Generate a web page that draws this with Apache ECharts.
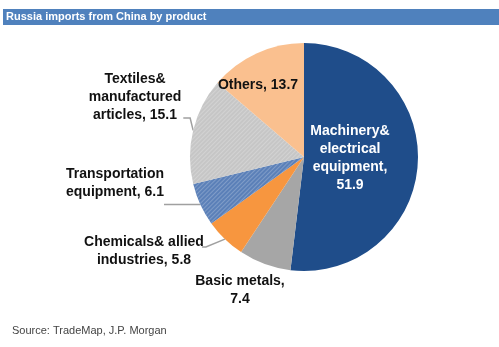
<!DOCTYPE html>
<html><head><meta charset="utf-8">
<script src="https://cdn.jsdelivr.net/npm/echarts@6/dist/echarts.min.js"></script>
<style>html,body{margin:0;padding:0;background:#fff}#c{width:499px;height:347px}</style>
</head><body><div id="c"></div>
<script>
var titleText = 'Russia imports from China by product';
var sourceText = 'Source: TradeMap, J.P. Morgan';
var categories = ['Machinery&\nelectrical\nequipment,', 'Basic metals,', 'Chemicals& allied\nindustries,', 'Transportation\nequipment,', 'Textiles&\nmanufactured\narticles,', 'Others,'];
var values = [51.9, 7.4, 5.8, 6.1, 15.1, 13.7];
var colors = ['#1f4d8a', '#a6a6a6', '#f7963f', '#5b80b8', '#c6c6c6', '#fac08f'];

var hatch = {symbol: 'rect', symbolSize: 1, dashArrayX: [1, 0], dashArrayY: [1, 2], rotation: -Math.PI / 4, color: 'rgba(255,255,255,0.22)'};
var labelPos = [[350, 158], [240, 290], [144, 251], [115, 183], [135, 97], [258, 85]];
var lineBreak = [true, true, false, false, false, false];

var data = categories.map(function (c, i) {
  var d = {name: c, value: values[i], itemStyle: {color: colors[i]}};
  if (i === 3 || i === 4) d.itemStyle.decal = hatch;
  if (i === 0) d.label = {position: 'inside', color: '#fff'};
  if (i === 5) d.label = {position: 'inside'};
  if (i === 0 || i === 1 || i === 5) d.labelLine = {show: false};
  return d;
});

var chart = echarts.init(document.getElementById('c'), null, {renderer: 'canvas'});
chart.setOption({
  animation: false,
  graphic: [
    {type: 'rect', shape: {x: 3, y: 9, width: 496, height: 16}, style: {fill: '#4f81bd'}},
    {type: 'text', left: 6, top: 11, style: {text: titleText, fill: '#fff', font: 'bold 11px "Liberation Sans", Arial, sans-serif'}},
    {type: 'text', left: 12, top: 325, style: {text: sourceText, fill: '#444', font: '11px "Liberation Sans", Arial, sans-serif'}}
  ],
  series: [{
    type: 'pie',
    center: [304, 157],
    radius: 114,
    startAngle: 90,
    clockwise: true,
    data: data,
    itemStyle: {borderWidth: 0},
    label: {
      show: true,
      position: 'outside',
      color: '#111',
      fontFamily: '"Liberation Sans Narrow", "Arial Narrow", "Liberation Sans", sans-serif',
      fontWeight: 'bold',
      fontSize: 14,
      lineHeight: 18,
      align: 'center',
      formatter: function (p) { return p.name + (lineBreak[p.dataIndex] ? '\n' : ' ') + p.value; }
    },
    labelLine: {show: true, length: 6, length2: 10, lineStyle: {color: '#a0a0a0', width: 1.5}},
    labelLayout: function (params) {
      var i = params.dataIndex;
      var pos = labelPos[i];
      var res = {x: pos[0], y: pos[1], align: 'center', verticalAlign: 'middle'};
      var pts = params.labelLinePoints;
      if (pts && pts.length) {
        var a = pts[0];
        var w = params.labelRect.width, h = params.labelRect.height;
        var right = pos[0] + w / 2, bottom = pos[1] + h / 2;
        if (i === 4) res.labelLinePoints = [a, [a[0] - 3, bottom - 6], [right + 2, bottom - 6]];
        if (i === 3) res.labelLinePoints = [a, [right, a[1]]];
        if (i === 2) res.labelLinePoints = [a, [right + 2, pos[1] - 4], [right - 2, pos[1] - 4]];
      }
      return res;
    }
  }]
});
</script></body></html>
